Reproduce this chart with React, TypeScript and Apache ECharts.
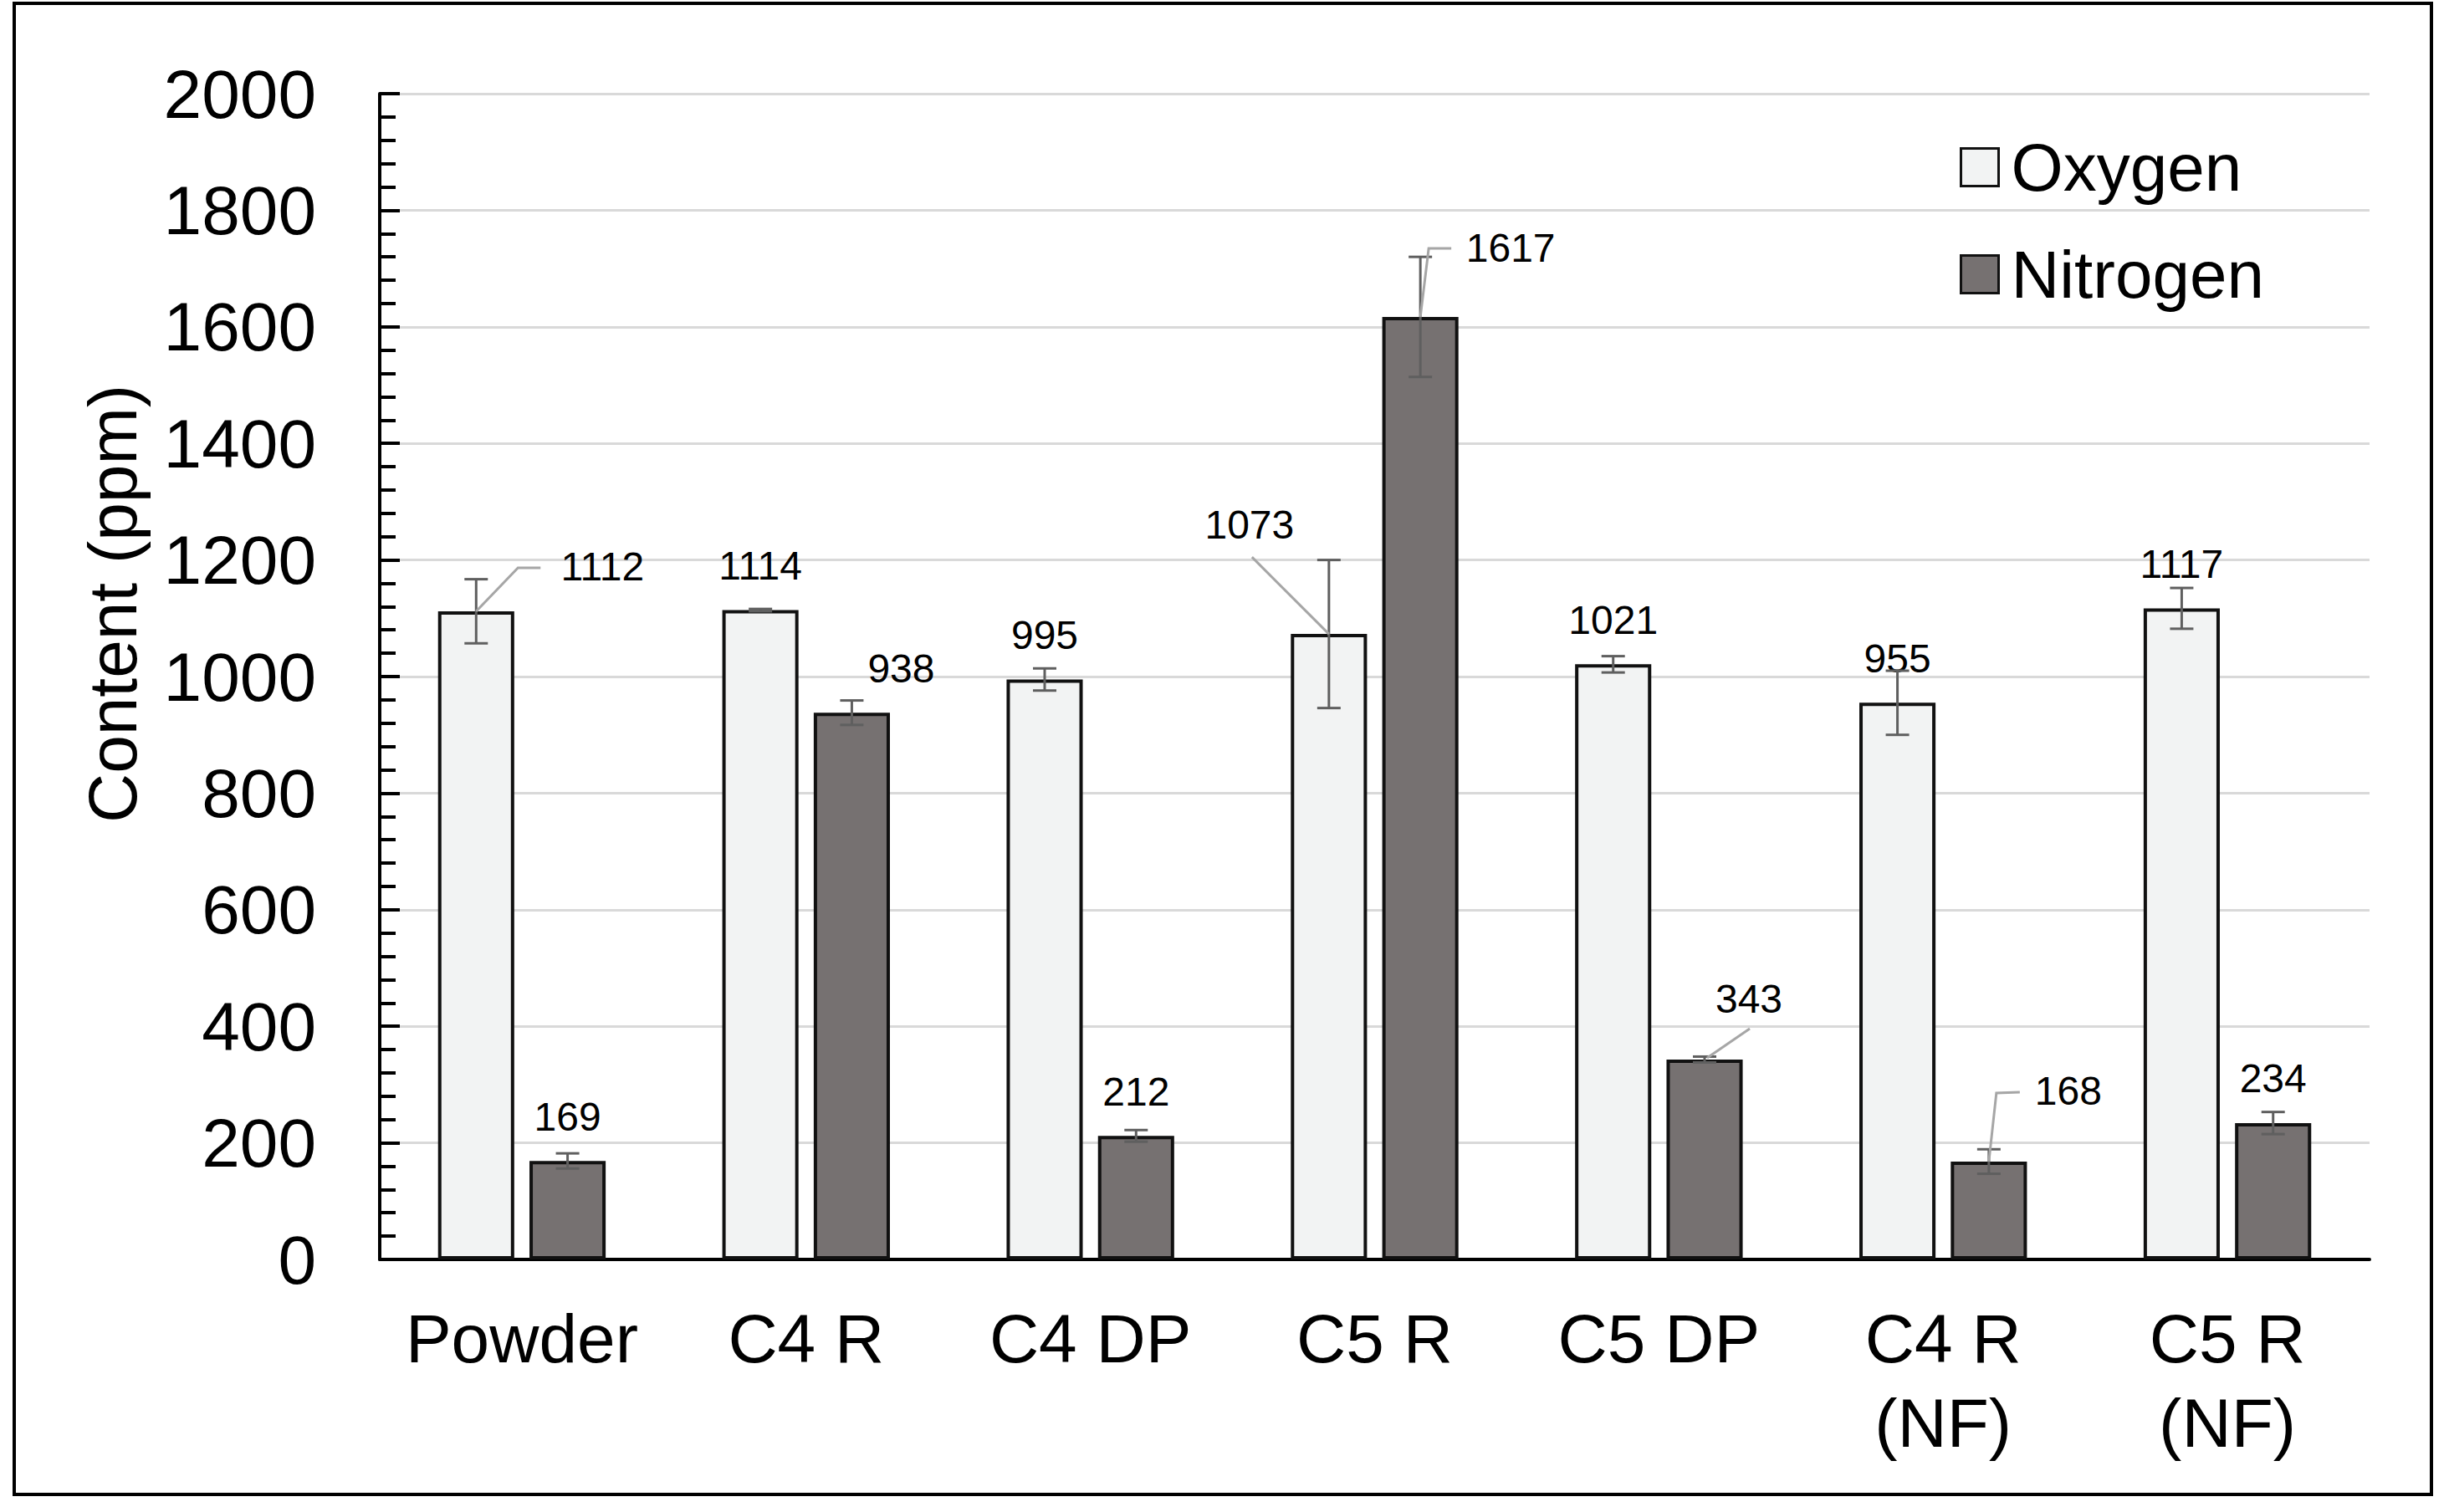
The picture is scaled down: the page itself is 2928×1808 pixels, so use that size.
import React, { useEffect, useRef } from "react";
import * as echarts from "echarts";

const categories = ["Powder", "C4 R", "C4 DP", "C5 R", "C5 DP", "C4 R\n(NF)", "C5 R\n(NF)"];
const oxygen = [1112, 1114, 995, 1073, 1021, 955, 1117];
const nitrogen = [169, 938, 212, 1617, 343, 168, 234];
const oxygenErr = [55, 2, 19, 127, 14, 55, 35];
const nitrogenErr = [13, 21, 10, 103, 5, 21, 19];
const yMin = 0;
const yMax = 2000;
const yInterval = 200;

// styling: label offsets (px) for moved data labels
const oxygenLabelOffset: (number[] | null)[] = [[151, 0], null, null, [-95, -78], null, null, null];
const nitrogenLabelOffset: (number[] | null)[] = [null, [59, 0], null, [108, -29], [53, -19], [95, -31], null];
// leader lines (px, relative to bar top centre)
const leaders = [
  { s: 0, i: 0, pts: [[0, 0], [50, -52], [77, -52]] },
  { s: 0, i: 3, pts: [[0, 0], [-92, -92]] },
  { s: 1, i: 3, pts: [[0, 0], [10, -82], [37, -82]] },
  { s: 1, i: 4, pts: [[3, -2], [54, -37]] },
  { s: 1, i: 5, pts: [[0, 0], [9, -82], [37, -83]] },
];

const FONT = "'Liberation Sans', Arial, sans-serif";
const BAR_FRAC = 0.268;
const BAR_GAP = 0.2;

function barOffset(api: any, s: number) {
  const bw = api.size([1, 0])[0];
  const w = bw * BAR_FRAC;
  return (s === 0 ? -1 : 1) * (w * (1 + BAR_GAP)) / 2;
}

function errRender(s: number) {
  return (params: any, api: any) => {
    const idx = api.value(0);
    const v = api.value(1);
    const e = api.value(2);
    const off = barOffset(api, s);
    const c = api.coord([idx, v]);
    const x = c[0] + off;
    const yt = api.coord([idx, v + e])[1];
    const yb = api.coord([idx, v - e])[1];
    const hw = 14;
    const st = { stroke: "#5f5f5f", lineWidth: 3 };
    return {
      type: "group",
      children: [
        { type: "line", shape: { x1: x, y1: yt, x2: x, y2: yb }, style: st },
        { type: "line", shape: { x1: x - hw, y1: yt, x2: x + hw, y2: yt }, style: st },
        { type: "line", shape: { x1: x - hw, y1: yb, x2: x + hw, y2: yb }, style: st },
      ],
    };
  };
}

export default function App() {
  const ref = useRef<HTMLDivElement>(null);
  useEffect(() => {
    if (!ref.current) return;
    const chart = echarts.init(ref.current, null, { renderer: "svg" });
    const values = [oxygen, nitrogen];
    const labelStyle = {
      show: true,
      position: "top",
      distance: 29,
      fontSize: 48,
      lineHeight: 48,
      color: "#000",
      fontFamily: FONT,
    };
    const mkData = (vals: number[], offs: (number[] | null)[]) =>
      vals.map((v, i) => (offs[i] ? { value: v, label: { offset: offs[i] } } : v));

    chart.setOption({
      animation: false,
      backgroundColor: "#fff",
      grid: { left: 454, right: 95, top: 112, bottom: 302, containLabel: false },
      legend: {
        orient: "vertical",
        left: 2338,
        top: 154,
        itemWidth: 45,
        itemHeight: 45,
        itemGap: 46,
        icon: "rect",
        data: ["Oxygen", "Nitrogen"],
        itemStyle: { borderWidth: 3, borderColor: "#111" },
        textStyle: { fontSize: 80, lineHeight: 82, fontFamily: FONT, color: "#000", padding: [0, 0, 0, 10] },
      },
      xAxis: {
        type: "category",
        data: categories,
        axisLine: { lineStyle: { color: "#000", width: 4 } },
        axisTick: { show: false },
        axisLabel: { interval: 0, fontSize: 82, lineHeight: 101, margin: 44, color: "#000", fontFamily: FONT },
      },
      yAxis: {
        type: "value",
        min: yMin,
        max: yMax,
        interval: yInterval,
        axisLine: { show: true, lineStyle: { color: "#000", width: 4 } },
        axisTick: { show: true, inside: true, length: 24, lineStyle: { color: "#000", width: 4 } },
        minorTick: { show: true, splitNumber: 5, length: 19, lineStyle: { color: "#000", width: 4 } },
        splitLine: { show: true, lineStyle: { color: "#d9d9d9", width: 3 } },
        axisLabel: {
          fontSize: 82,
          margin: 76,
          color: "#000",
          fontFamily: FONT,
          formatter: (v: number) => String(v),
        },
      },
      graphic: [
        {
          type: "rect",
          shape: { x: 17, y: 4, width: 2890, height: 1783 },
          style: { fill: "none", stroke: "#000", lineWidth: 4 },
          silent: true,
        },
        {
          type: "text",
          x: 134,
          y: 722,
          rotation: Math.PI / 2,
          style: {
            text: "Content (ppm)",
            fontSize: 82,
            fontFamily: FONT,
            fill: "#000",
            align: "center",
            verticalAlign: "middle",
          },
        },
      ],
      series: [
        {
          name: "Oxygen",
          type: "bar",
          data: mkData(oxygen, oxygenLabelOffset),
          barWidth: BAR_FRAC * 100 + "%",
          barGap: BAR_GAP * 100 + "%",
          itemStyle: { color: "#f2f3f3", borderColor: "#111", borderWidth: 4 },
          label: labelStyle,
          z: 2,
        },
        {
          name: "Nitrogen",
          type: "bar",
          data: mkData(nitrogen, nitrogenLabelOffset),
          barWidth: BAR_FRAC * 100 + "%",
          barGap: BAR_GAP * 100 + "%",
          itemStyle: { color: "#767171", borderColor: "#111", borderWidth: 4 },
          label: labelStyle,
          z: 2,
        },
        {
          name: "OxygenErr",
          type: "custom",
          renderItem: errRender(0),
          data: oxygen.map((v, i) => [i, v, oxygenErr[i]]),
          z: 3,
          silent: true,
        },
        {
          name: "NitrogenErr",
          type: "custom",
          renderItem: errRender(1),
          data: nitrogen.map((v, i) => [i, v, nitrogenErr[i]]),
          z: 3,
          silent: true,
        },
        {
          name: "Leaders",
          type: "custom",
          renderItem: (params: any, api: any) => {
            const l = leaders[params.dataIndex];
            const c = api.coord([api.value(0), api.value(1)]);
            const off = barOffset(api, l.s);
            const points = l.pts.map((p) => [c[0] + off + p[0], c[1] + p[1]]);
            return {
              type: "polyline",
              shape: { points },
              style: { stroke: "#a6a6a6", lineWidth: 3, fill: null },
            };
          },
          data: leaders.map((l) => [l.i, values[l.s][l.i]]),
          z: 3,
          silent: true,
        },
      ],
    });
    return () => chart.dispose();
  }, []);
  return (
    <div
      ref={ref}
      style={{ position: "fixed", left: 0, top: 0, width: 2928, height: 1808 }}
    />
  );
}
